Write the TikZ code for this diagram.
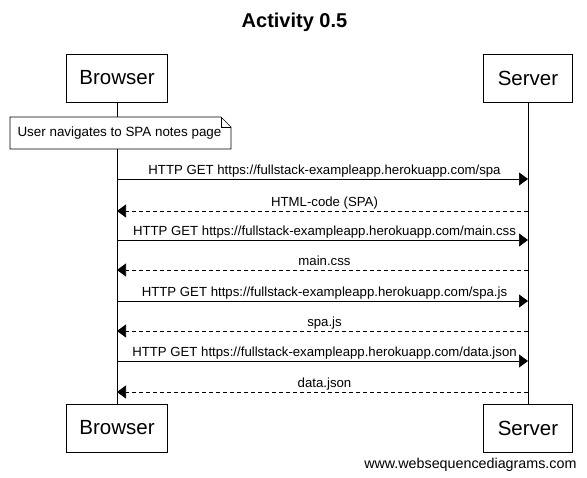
\documentclass[tikz,border=0pt]{standalone}
\usepackage{fontspec}
\setmainfont{Liberation Sans}
\usetikzlibrary{arrows.meta}
\begin{document}
\begin{tikzpicture}[x=1pt,y=-1pt,
  actor/.style={draw=black,line width=0.8pt,minimum height=48pt,inner sep=0pt,font=\fontsize{20.5}{24}\selectfont,fill=white},
  msglabel/.style={font=\fontsize{13.2}{15}\selectfont,inner sep=0pt,anchor=base},
  req/.style={line width=0.7pt,-{Triangle[length=9pt,width=13pt]}},
  resp/.style={line width=0.7pt,dash pattern=on 4pt off 3pt,-{Triangle[length=9pt,width=13pt]}},
  life/.style={line width=0.8pt}]
\useasboundingbox (0,0) rectangle (587,478);
\node[font=\bfseries\fontsize{20}{24}\selectfont] (title) at (294.5,22.5) {Activity 0.5};
\node[actor,minimum width=101pt] (bt) at (117,78) {Browser};
\node[actor,minimum width=89pt] (st) at (528,78) {Server};
\node[actor,minimum width=101pt] (bb) at (117,428) {Browser};
\node[actor,minimum width=89pt] (sb) at (528,428) {Server};
\draw[life] (bt.south) -- (bb.north);
\draw[life] (st.south) -- (sb.north);
% note
\coordinate (n1) at (10,117);
\coordinate (n2) at (231,117);
\coordinate (n3) at (231,149);
\coordinate (n4) at (10,149);
\coordinate (nf1) at (221,117);
\coordinate (nf2) at (231,127);
\coordinate (nf3) at (221,127);
\draw[line width=0.6pt,fill=white] (n1) -- (nf1) -- (nf2) -- (n3) -- (n4) -- cycle;
\draw[line width=0.6pt] (nf1) -- (nf3) -- (nf2);
\node[font=\fontsize{13.4}{15}\selectfont] (note) at (119.5,133) {User navigates to SPA notes page};
% messages
\foreach \y/\t/\s in {179/{HTTP GET https://fullstack-exampleapp.herokuapp.com/spa}/req,
  211/{HTML-code (SPA)}/resp,
  240/{HTTP GET https://fullstack-exampleapp.herokuapp.com/main.css}/req,
  270/{main.css}/resp,
  301/{HTTP GET https://fullstack-exampleapp.herokuapp.com/spa.js}/req,
  331/{spa.js}/resp,
  361/{HTTP GET https://fullstack-exampleapp.herokuapp.com/data.json}/req,
  392/{data.json}/resp}{
  \coordinate (a) at (117,\y);
  \coordinate (b) at (528,\y);
  \ifnum\pdfstrcmp{\s}{req}=0
    \draw[req] (a) -- (b);
  \else
    \draw[resp] (b) -- (a);
  \fi
  \node[msglabel] at (324.5,\y-4.5) {\t};
}
\node[font=\fontsize{14.3}{16}\selectfont,anchor=base east] (wm) at (580,468) {www.websequencediagrams.com};
\end{tikzpicture}
\end{document}
